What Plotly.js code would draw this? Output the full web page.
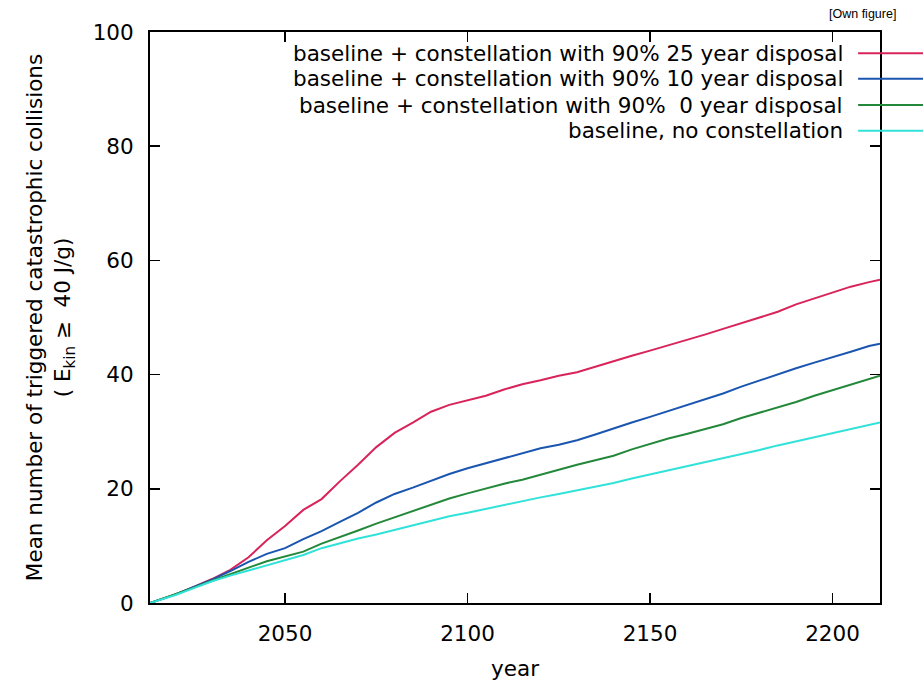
<!DOCTYPE html>
<html>
<head>
<meta charset="utf-8">
<script src="https://cdn.plot.ly/plotly-3.0.1.min.js"></script>
<style>html,body{margin:0;padding:0;background:#fff;}#chart{width:923px;height:681px;}</style>
</head>
<body>
<div id="chart"></div>
<script>
const years = [2013,2020,2025,2030,2035,2040,2045,2050,2055,2060,2065,2070,2075,2080,2085,2090,2095,2100,2105,2110,2115,2120,2125,2130,2135,2140,2145,2150,2155,2160,2165,2170,2175,2180,2185,2190,2195,2200,2205,2210,2213];
const red25 = [0,1.5,2.8,4.2,5.8,8.0,11.0,13.5,16.3,18.2,21.3,24.2,27.3,29.8,31.6,33.5,34.7,35.5,36.3,37.4,38.3,39.0,39.8,40.4,41.4,42.4,43.3,44.2,45.1,46.1,47.0,48.0,49.0,50.0,51.0,52.3,53.3,54.3,55.4,56.2,56.6];
const blue10 = [0,1.5,2.8,4.1,5.6,7.2,8.6,9.6,11.2,12.6,14.2,15.8,17.6,19.1,20.2,21.4,22.6,23.6,24.5,25.4,26.3,27.1,27.7,28.5,29.5,30.6,31.6,32.6,33.6,34.6,35.6,36.7,37.9,39.0,40.0,41.1,42.1,43.0,44.0,45.0,45.4];
const green0 = [0,1.5,2.7,3.9,5.1,6.2,7.3,8.2,9.0,10.4,11.5,12.7,13.9,15.0,16.0,17.2,18.3,19.2,20.1,20.9,21.6,22.5,23.3,24.2,25.0,25.8,26.9,27.9,28.8,29.6,30.4,31.3,32.4,33.3,34.2,35.2,36.3,37.3,38.3,39.3,39.8];
const cyanBase = [0,1.4,2.6,3.8,4.8,5.7,6.5,7.4,8.4,9.6,10.5,11.3,12.0,12.8,13.5,14.3,15.2,15.8,16.5,17.2,17.9,18.5,19.1,19.7,20.3,21.0,21.8,22.5,23.3,24.0,24.7,25.4,26.1,26.8,27.6,28.3,29.0,29.7,30.4,31.2,31.6];
const seriesNames = [
  "baseline + constellation with 90% 25 year disposal",
  "baseline + constellation with 90% 10 year disposal",
  "baseline + constellation with 90%\u00a0 0 year disposal",
  "baseline, no constellation"
];
const seriesValues = [red25, blue10, green0, cyanBase];
const colors = ["#d8245a", "#1a55b0", "#23883a", "#30e2d8"];
const xTicks = [2050, 2100, 2150, 2200];
const yTicks = [0, 20, 40, 60, 80, 100];

const font = "DejaVu Sans, sans-serif";
const fs = 21.5;
const traces = seriesValues.map((v, i) => ({
  x: years, y: v, type: "scatter", mode: "lines", name: seriesNames[i],
  line: {color: colors[i], width: 2}, showlegend: false
}));

const legendY = [0.963, 0.918, 0.872, 0.827];
const annotations = seriesNames.map((n, i) => ({
  xref: "paper", yref: "paper", x: 0.952, y: legendY[i], xanchor: "right", yanchor: "middle",
  text: n, showarrow: false, font: {family: font, size: fs, color: "#000"}
}));
annotations.push({
  xref: "paper", yref: "paper", x: 1.0247, y: 1.031, xanchor: "right", yanchor: "middle",
  text: "[Own figure]", showarrow: false, font: {family: "Liberation Sans, Arial, sans-serif", size: 12.5, color: "#000"}
});
const shapes = colors.map((c, i) => ({
  type: "line", xref: "paper", yref: "paper", x0: 0.970, x1: 1.06, y0: legendY[i], y1: legendY[i],
  line: {color: c, width: 2}, layer: "above"
}));

const layout = {
  width: 923, height: 681,
  margin: {l: 150, r: 43, t: 32, b: 78},
  paper_bgcolor: "#fff", plot_bgcolor: "#fff",
  font: {family: font, size: fs, color: "#000"},
  xaxis: {
    range: [2013, 2213], tickvals: xTicks, ticks: "inside", ticklen: 10, tickwidth: 1.5, tickcolor: "#000",
    showline: true, linecolor: "#000", linewidth: 2, mirror: "allticks", showgrid: false, zeroline: false,
    ticklabelstandoff: 10, tickfont: {family: font, size: fs},
    title: {text: "year", font: {family: font, size: fs}, standoff: 16}
  },
  yaxis: {
    range: [0, 100], tickvals: yTicks, ticks: "inside", ticklen: 10, tickwidth: 1.5, tickcolor: "#000",
    showline: true, linecolor: "#000", linewidth: 2, mirror: "allticks", showgrid: false, zeroline: false,
    ticklabelstandoff: 10, tickfont: {family: font, size: fs},
    title: {text: "Mean number of triggered catastrophic collisions<br>( E<sub>kin</sub> \u2265  40 J/g)", font: {family: font, size: fs}, standoff: 16}
  },
  annotations: annotations, shapes: shapes
};
Plotly.newPlot("chart", traces, layout, {displayModeBar: false, staticPlot: true});
</script>
</body>
</html>
